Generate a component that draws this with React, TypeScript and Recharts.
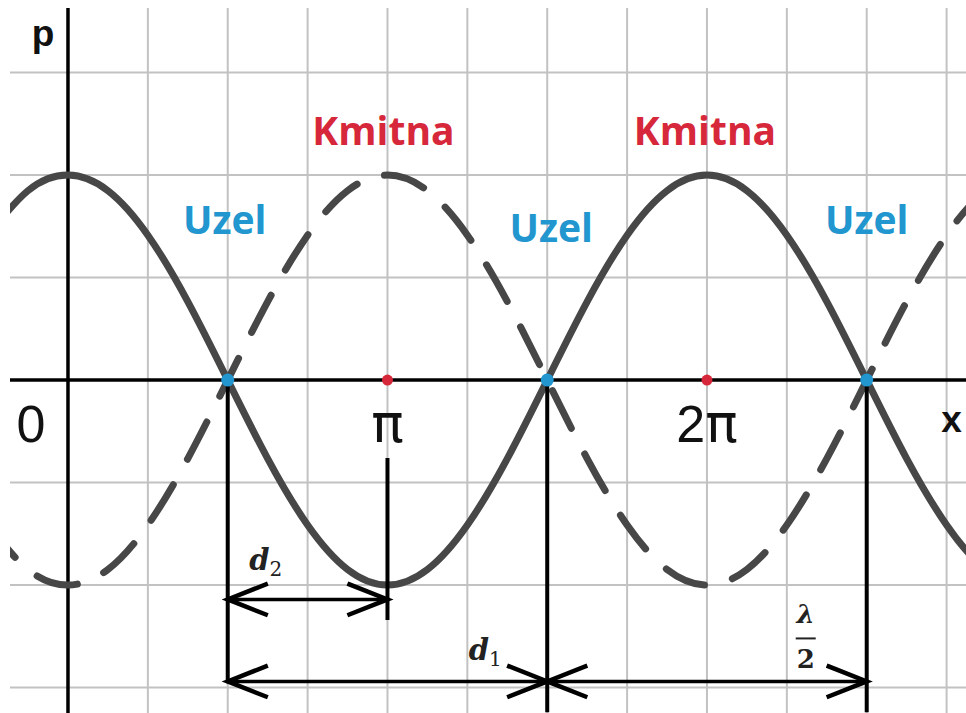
import { ComposedChart, Line, XAxis, YAxis, CartesianGrid, ReferenceLine, ReferenceDot } from 'recharts';

// x is measured in quarters of π (grid step), y in units of amplitude
const quarterSteps = [-1, -0.5, 0, 0.5, 1, 1.5, 2, 2.5, 3, 3.5, 4, 4.5, 5, 5.5, 6, 6.5, 7, 7.5, 8, 8.5, 9, 9.5, 10, 10.5, 11, 11.5, 12];
const pressureSolid = [0.707, 0.924, 1, 0.924, 0.707, 0.383, 0, -0.383, -0.707, -0.924, -1, -0.924, -0.707, -0.383, 0, 0.383, 0.707, 0.924, 1, 0.924, 0.707, 0.383, 0, -0.383, -0.707, -0.924, -1];
const pressureDashed = [-0.707, -0.924, -1, -0.924, -0.707, -0.383, 0, 0.383, 0.707, 0.924, 1, 0.924, 0.707, 0.383, 0, -0.383, -0.707, -0.924, -1, -0.924, -0.707, -0.383, 0, 0.383, 0.707, 0.924, 1];

const nodeX = [2, 6, 10];
const antinodeX = [4, 8];
const tickX = [0, 4, 8];
const tickDigits = ['0', '', '2'];
const tickPi = ['', 'π', 'π'];
const gridX = [0, 1, 2, 3, 4, 5, 6, 7, 8, 9, 10, 11];
const gridY = [-1.5, -1, -0.5, 0, 0.5, 1, 1.5];

const X_DOMAIN = [-0.726, 11.243];
const Y_DOMAIN = [-1.624, 1.815];

const BLUE = '#2196cf';
const RED = '#d6283a';
const CURVE = '#474747';

const data = quarterSteps.map((x, i) => ({ x, solid: pressureSolid[i], dashed: pressureDashed[i] }));

// text drawn at a data point, baseline offset in px
const textAt = (value: string, style: any, dx = 0, dy = 0) => (props: any) => {
  const { x, y } = props.viewBox;
  return (
    <text x={x + dx} y={y + dy} textAnchor="middle" {...style}>
      {value}
    </text>
  );
};

const ArrowShape = (props: any) => {
  const { x1, y1, x2, y2 } = props;
  const w = 38;
  const h = 15;
  return (
    <g stroke="#000" fill="none" strokeLinecap="square">
      <line x1={x1} y1={y1} x2={x2} y2={y2} strokeWidth={3.5} />
      <polyline points={`${x1 + w},${y1 - h} ${x1},${y1} ${x1 + w},${y1 + h}`} strokeWidth={4.5} />
      <polyline points={`${x2 - w},${y2 - h} ${x2},${y2} ${x2 - w},${y2 + h}`} strokeWidth={4.5} />
    </g>
  );
};

const labelFont = { fontFamily: '"Open Sans", sans-serif', fontWeight: 700, fontSize: 39 };
const tickFont = { fontFamily: '"Liberation Sans", Arial, sans-serif', fontSize: 52, fill: '#111' };
const axisFont = { fontFamily: '"Liberation Sans", Arial, sans-serif', fontWeight: 700, fontSize: 37, fill: '#111' };
const mathFont = { fontFamily: '"DejaVu Serif", serif', fontStyle: 'italic', fontWeight: 700, fontSize: 29, fill: '#222' };

const tickText = (digit: string, pi: string, dx: number) => (props: any) => {
  const { x, y } = props.viewBox;
  return (
    <text x={x + dx} y={y + 62} textAnchor="middle" {...tickFont}>
      {digit}
      {pi && (
        <tspan fontFamily='"DejaVu Sans", sans-serif' fontWeight={400} fontSize={54}>
          {pi}
        </tspan>
      )}
    </text>
  );
};

export default function App() {
  return (
    <div style={{ position: 'fixed', left: 0, top: 0, width: 966, height: 713, background: '#fff' }}>
      <ComposedChart width={966} height={713} data={data} margin={{ top: 8, right: 0, bottom: 0, left: 10 }}>
        <XAxis type="number" dataKey="x" domain={X_DOMAIN} ticks={gridX} allowDataOverflow hide />
        <YAxis type="number" domain={Y_DOMAIN} ticks={gridY} allowDataOverflow hide />
        <CartesianGrid stroke="#c2c2c2" strokeWidth={2} verticalValues={gridX} horizontalValues={gridY} />

        {/* axes */}
        <ReferenceLine y={0} stroke="#000" strokeWidth={3.5} />
        <ReferenceLine x={0} stroke="#000" strokeWidth={3.5} />

        <Line
          type="natural"
          dataKey="dashed"
          stroke={CURVE}
          strokeWidth={7}
          strokeDasharray="42 29"
          strokeLinecap="round"
          dot={false}
          activeDot={false}
          isAnimationActive={false}
        />
        <Line
          type="natural"
          dataKey="solid"
          stroke={CURVE}
          strokeWidth={7}
          dot={false}
          activeDot={false}
          isAnimationActive={false}
        />

        {/* drop lines */}
        <ReferenceLine segment={[{ x: nodeX[0], y: 0 }, { x: nodeX[0], y: -1.47 }]} stroke="#000" strokeWidth={4} />
        <ReferenceLine segment={[{ x: nodeX[1], y: 0 }, { x: nodeX[1], y: -1.62 }]} stroke="#000" strokeWidth={4} ifOverflow="visible" />
        <ReferenceLine segment={[{ x: nodeX[2], y: 0 }, { x: nodeX[2], y: -1.62 }]} stroke="#000" strokeWidth={4} ifOverflow="visible" />
        <ReferenceLine segment={[{ x: antinodeX[0], y: -0.38 }, { x: antinodeX[0], y: -1.17 }]} stroke="#000" strokeWidth={4} />

        {/* distance arrows */}
        <ReferenceLine segment={[{ x: nodeX[0], y: -1.07 }, { x: antinodeX[0], y: -1.07 }]} shape={ArrowShape} />
        <ReferenceLine segment={[{ x: nodeX[0], y: -1.47 }, { x: nodeX[1], y: -1.47 }]} shape={ArrowShape} />
        <ReferenceLine segment={[{ x: nodeX[1], y: -1.47 }, { x: nodeX[2], y: -1.47 }]} shape={ArrowShape} />

        {nodeX.map((x) => (
          <ReferenceDot key={`n${x}`} x={x} y={0} r={6.5} fill={BLUE} stroke="none" />
        ))}
        {antinodeX.map((x) => (
          <ReferenceDot key={`a${x}`} x={x} y={0} r={5.5} fill={RED} stroke="none" />
        ))}

        {/* labels */}
        {tickX.map((x, i) => (
          <ReferenceDot
            key={`t${x}`}
            x={x}
            y={0}
            r={0}
            fill="none"
            stroke="none"
            label={tickText(tickDigits[i], tickPi[i], i === 0 ? -37 : 0)}
          />
        ))}
        <ReferenceDot x={nodeX[0]} y={0} r={0} fill="none" stroke="none" label={textAt('Uzel', { ...labelFont, fill: BLUE }, -3, -146)} />
        <ReferenceDot x={nodeX[1]} y={0} r={0} fill="none" stroke="none" label={textAt('Uzel', { ...labelFont, fill: BLUE }, 4, -138)} />
        <ReferenceDot x={nodeX[2]} y={0} r={0} fill="none" stroke="none" label={textAt('Uzel', { ...labelFont, fill: BLUE }, 0, -146)} />
        <ReferenceDot x={antinodeX[0]} y={0} r={0} fill="none" stroke="none" label={textAt('Kmitna', { ...labelFont, fill: RED }, -4, -235)} />
        <ReferenceDot x={antinodeX[1]} y={0} r={0} fill="none" stroke="none" label={textAt('Kmitna', { ...labelFont, fill: RED }, -2, -235)} />
        <ReferenceDot x={0} y={0} r={0} fill="none" stroke="none" label={textAt('p', axisFont, -25, -334)} />
        <ReferenceDot x={11} y={0} r={0} fill="none" stroke="none" label={textAt('x', axisFont, 5, 52)} ifOverflow="visible" />

        <ReferenceDot
          x={nodeX[0]}
          y={-1.07}
          r={0}
          fill="none"
          stroke="none"
          label={(props: any) => (
            <text x={props.viewBox.x + 38} y={props.viewBox.y - 29} textAnchor="middle" {...mathFont}>
              d<tspan fontSize={20} fontStyle="normal" fontWeight={400} dy={6}>2</tspan>
            </text>
          )}
        />
        <ReferenceDot
          x={nodeX[1]}
          y={-1.47}
          r={0}
          fill="none"
          stroke="none"
          label={(props: any) => (
            <text x={props.viewBox.x - 62} y={props.viewBox.y - 21} textAnchor="middle" {...mathFont}>
              d<tspan fontSize={20} fontStyle="normal" fontWeight={400} dy={6}>1</tspan>
            </text>
          )}
        />
        <ReferenceDot
          x={nodeX[2]}
          y={-1.47}
          r={0}
          fill="none"
          stroke="none"
          label={(props: any) => {
            const cx = props.viewBox.x - 61;
            const cy = props.viewBox.y;
            return (
              <g>
                <text x={cx} y={cy - 58} textAnchor="middle" {...mathFont} fontSize={26}>λ</text>
                <line x1={cx - 10} y1={cy - 43} x2={cx + 10} y2={cy - 43} stroke="#222" strokeWidth={2} />
                <text x={cx} y={cy - 13} textAnchor="middle" {...mathFont} fontSize={26} fontStyle="normal">2</text>
              </g>
            );
          }}
        />
      </ComposedChart>
    </div>
  );
}
